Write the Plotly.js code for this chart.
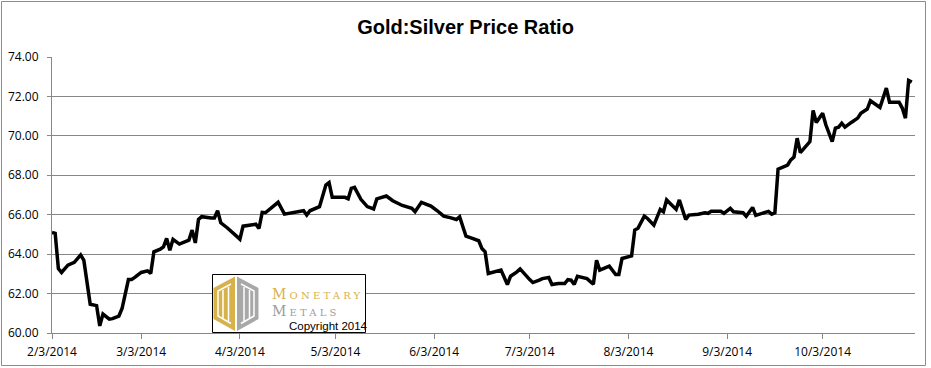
<!DOCTYPE html>
<html>
<head>
<meta charset="utf-8">
<script src="https://cdn.plot.ly/plotly-3.0.1.min.js"></script>
<style>
  html, body { margin: 0; padding: 0; background: #fff; }
  #chart { width: 931px; height: 368px; }
</style>
</head>
<body>
<div id="chart"></div>
<script>
// ---- data ----
const dates = [
  '2014-02-03','2014-02-04','2014-02-05','2014-02-06','2014-02-08','2014-02-09','2014-02-10','2014-02-12','2014-02-13','2014-02-15',
  '2014-02-16','2014-02-17','2014-02-18','2014-02-19','2014-02-21','2014-02-22','2014-02-24','2014-02-25','2014-02-27','2014-02-28',
  '2014-03-01','2014-03-03','2014-03-05','2014-03-06','2014-03-07','2014-03-09','2014-03-10','2014-03-11','2014-03-12','2014-03-13',
  '2014-03-15','2014-03-16','2014-03-18','2014-03-19','2014-03-20','2014-03-21','2014-03-22','2014-03-25','2014-03-26','2014-03-27',
  '2014-03-28','2014-03-30',
  '2014-04-01','2014-04-03','2014-04-04','2014-04-06','2014-04-08','2014-04-09','2014-04-10','2014-04-11','2014-04-13','2014-04-15',
  '2014-04-17','2014-04-20','2014-04-23','2014-04-24','2014-04-25','2014-04-28','2014-04-30',
  '2014-05-01','2014-05-02','2014-05-04','2014-05-06','2014-05-07','2014-05-08','2014-05-09','2014-05-11','2014-05-13','2014-05-15',
  '2014-05-16','2014-05-19','2014-05-21','2014-05-23','2014-05-24','2014-05-27','2014-05-28','2014-05-30',
  '2014-06-02','2014-06-04','2014-06-06','2014-06-08','2014-06-10','2014-06-11','2014-06-13','2014-06-15','2014-06-17','2014-06-18',
  '2014-06-19','2014-06-20','2014-06-22','2014-06-24','2014-06-26','2014-06-27','2014-06-29','2014-06-30',
  '2014-07-03','2014-07-04','2014-07-06','2014-07-07','2014-07-09','2014-07-10','2014-07-12','2014-07-14','2014-07-15','2014-07-16',
  '2014-07-17','2014-07-18','2014-07-21','2014-07-23','2014-07-24','2014-07-25','2014-07-28','2014-07-30','2014-07-31',
  '2014-08-01','2014-08-04','2014-08-05','2014-08-06','2014-08-08','2014-08-09','2014-08-11','2014-08-13','2014-08-14','2014-08-15',
  '2014-08-18','2014-08-19','2014-08-20','2014-08-21','2014-08-22','2014-08-25','2014-08-27','2014-08-28','2014-08-29',
  '2014-09-01','2014-09-02','2014-09-04','2014-09-05','2014-09-08','2014-09-09','2014-09-11','2014-09-12','2014-09-15','2014-09-16',
  '2014-09-17','2014-09-18','2014-09-19','2014-09-22','2014-09-23','2014-09-24','2014-09-25','2014-09-26','2014-09-29','2014-09-30',
  '2014-10-01','2014-10-03','2014-10-04','2014-10-06','2014-10-07','2014-10-08','2014-10-09','2014-10-10','2014-10-12','2014-10-14',
  '2014-10-15','2014-10-17','2014-10-18','2014-10-21','2014-10-23','2014-10-24','2014-10-27','2014-10-28','2014-10-29','2014-10-30',
  '2014-10-31'
];
const ratio = [
  65.10,65.05,63.27,63.07,63.44,63.51,63.58,63.96,63.68,61.46,
  61.41,61.39,60.36,60.96,60.70,60.73,60.86,61.24,62.71,62.71,
  62.82,63.07,63.15,63.02,64.12,64.25,64.37,64.80,64.20,64.75,
  64.51,64.57,64.71,65.22,64.57,65.76,65.90,65.83,65.83,66.20,
  65.59,65.34,
  65.05,64.76,65.42,65.49,65.52,65.30,66.12,66.10,66.35,66.63,
  66.03,66.12,66.20,65.98,66.20,66.41,67.51,
  67.63,66.88,66.88,66.88,66.81,67.34,67.39,66.78,66.41,66.29,
  66.80,66.95,66.71,66.54,66.47,66.32,66.15,66.63,
  66.44,66.20,65.93,65.85,65.76,65.90,64.91,64.80,64.68,64.29,
  64.12,63.02,63.10,63.19,62.46,62.88,63.10,63.25,
  62.71,62.56,62.68,62.76,62.82,62.46,62.51,62.51,62.71,62.68,
  62.47,62.88,62.76,62.47,63.69,63.19,63.39,62.97,62.97,
  63.78,63.91,65.22,65.31,65.93,65.81,65.47,66.27,66.15,66.75,
  66.27,66.75,66.20,65.76,65.98,66.02,66.10,66.07,66.17,
  66.17,66.07,66.32,66.15,66.10,65.92,66.37,65.97,66.10,66.17,
  66.03,66.10,68.31,68.52,68.78,68.92,69.88,69.15,69.71,71.29,
  70.68,71.15,70.56,69.71,70.39,70.44,70.64,70.44,70.68,70.90,
  71.15,71.36,71.78,71.44,72.42,71.71,71.71,71.41,70.90,72.81,
  72.73
];
const chartTitle = 'Gold:Silver Price Ratio';
const yTicks = [60, 62, 64, 66, 68, 70, 72, 74];
const logoWords = ['Monetary', 'Metals'];
const copyrightText = 'Copyright 2014';

// ---- layout helpers (pixel -> paper for decorations) ----
const W = 931, H = 368;
const M = { l: 52, r: 16, t: 57, b: 35 };
const PW = W - M.l - M.r, PH = H - M.t - M.b;
const X = px => (px - M.l) / PW;
const Y = py => (H - M.b - py) / PH;
const pt = (x, y) => X(x).toFixed(5) + ',' + Y(y).toFixed(5);

const GRID = '#878787';
const GOLD = '#D7B24A';
const GREY = '#A8A8A8';

const shapes = [
  // outer chart border
  { type: 'rect', xref: 'paper', yref: 'paper', x0: X(1.5), x1: X(925.5), y0: Y(365.5), y1: Y(1.5),
    line: { color: '#8c8c8c', width: 1 }, fillcolor: 'rgba(0,0,0,0)', layer: 'below' },
  // logo box
  { type: 'rect', xref: 'paper', yref: 'paper', x0: X(212.5), x1: X(365.5), y0: Y(332.5), y1: Y(274.5),
    line: { color: '#000', width: 1 }, fillcolor: '#fff', layer: 'above' },
  // gold half hexagon
  { type: 'path', xref: 'paper', yref: 'paper', layer: 'above',
    path: 'M' + pt(213.5, 288) + 'L' + pt(235, 276.5) + 'L' + pt(235, 331) + 'L' + pt(213.5, 319) + 'Z',
    fillcolor: GOLD, line: { width: 0 } },
  // grey half hexagon
  { type: 'path', xref: 'paper', yref: 'paper', layer: 'above',
    path: 'M' + pt(237, 276.5) + 'L' + pt(258.5, 288) + 'L' + pt(258.5, 319) + 'L' + pt(237, 331) + 'Z',
    fillcolor: GREY, line: { width: 0 } },
  // inner white outlines
  { type: 'path', xref: 'paper', yref: 'paper', layer: 'above',
    path: 'M' + pt(231, 284) + 'L' + pt(218, 291) + 'L' + pt(218, 316) + 'L' + pt(231, 323.5),
    line: { color: '#fff', width: 1.5 } },
  { type: 'path', xref: 'paper', yref: 'paper', layer: 'above',
    path: 'M' + pt(241, 284) + 'L' + pt(254, 291) + 'L' + pt(254, 316) + 'L' + pt(241, 323.5),
    line: { color: '#fff', width: 1.5 } },
  // "M" bars
  { type: 'line', xref: 'paper', yref: 'paper', layer: 'above', x0: X(223), x1: X(223), y0: Y(290), y1: Y(318), line: { color: '#fff', width: 1.5 } },
  { type: 'line', xref: 'paper', yref: 'paper', layer: 'above', x0: X(228.5), x1: X(228.5), y0: Y(287), y1: Y(321), line: { color: '#fff', width: 1.5 } },
  { type: 'line', xref: 'paper', yref: 'paper', layer: 'above', x0: X(244), x1: X(244), y0: Y(287), y1: Y(321), line: { color: '#fff', width: 1.5 } },
  { type: 'line', xref: 'paper', yref: 'paper', layer: 'above', x0: X(249.5), x1: X(249.5), y0: Y(290), y1: Y(318), line: { color: '#fff', width: 1.5 } }
];

const annotations = [
  { xref: 'paper', yref: 'paper', x: X(269.5), y: Y(294.3), xanchor: 'left', yanchor: 'middle', showarrow: false,
    text: '<span style="letter-spacing:3.2px">' + logoWords[0] + '</span>',
    font: { family: 'DejaVu Serif', size: 14, color: GOLD, variant: 'small-caps' } },
  { xref: 'paper', yref: 'paper', x: X(269.5), y: Y(311.2), xanchor: 'left', yanchor: 'middle', showarrow: false,
    text: '<span style="letter-spacing:3.2px">' + logoWords[1] + '</span>',
    font: { family: 'DejaVu Serif', size: 14, color: '#9d9d9d', variant: 'small-caps' } },
  { xref: 'paper', yref: 'paper', x: X(287), y: Y(326), xanchor: 'left', yanchor: 'middle', showarrow: false,
    text: copyrightText, font: { family: 'Liberation Sans', size: 11.5, color: '#000' } }
];

const trace = {
  type: 'scatter', mode: 'lines', x: dates, y: ratio,
  line: { color: '#000', width: 3.5 }, hoverinfo: 'skip', showlegend: false
};

const layout = {
  width: W, height: H,
  margin: M,
  paper_bgcolor: '#fff', plot_bgcolor: '#fff',
  title: { text: chartTitle, x: 0.5, xanchor: 'center', y: 1 - 27 / H, yanchor: 'middle', yref: 'container',
    font: { family: 'Liberation Sans', size: 20, weight: 'bold', color: '#000' } },
  xaxis: {
    type: 'date', range: ['2014-02-03', '2014-11-01'],
    tick0: '2014-02-03', dtick: 'M1', tickformat: '%-m/%-d/%Y',
    showgrid: false, zeroline: false,
    showline: true, linecolor: GRID, linewidth: 1,
    ticks: 'outside', ticklen: 5, tickcolor: GRID, tickwidth: 1,
    tickfont: { family: 'Open Sans', size: 12, color: '#000' }, ticklabelstandoff: 3
  },
  yaxis: {
    range: [60, 74], tickvals: yTicks, tickformat: '.2f',
    showgrid: true, gridcolor: GRID, gridwidth: 1, zeroline: false,
    showline: true, linecolor: GRID, linewidth: 1,
    ticks: 'outside', ticklen: 4, tickcolor: GRID, tickwidth: 1,
    tickfont: { family: 'Open Sans', size: 12, color: '#000' }, ticklabelstandoff: 6
  },
  shapes: shapes,
  annotations: annotations,
  showlegend: false
};

Plotly.newPlot('chart', [trace], layout, { displayModeBar: false, staticPlot: true });
</script>
</body>
</html>
